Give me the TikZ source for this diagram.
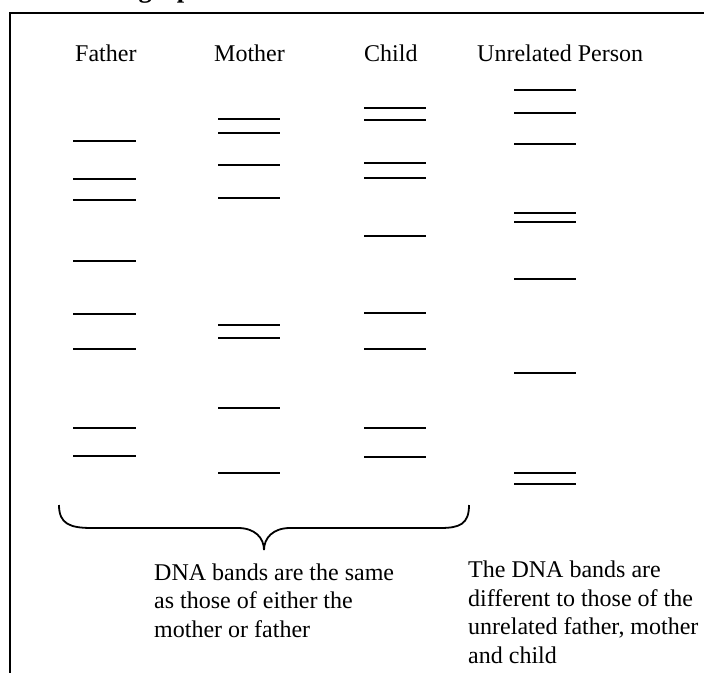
\documentclass[tikz,border=0pt]{standalone}
\usepackage{fontspec}
\setmainfont{Liberation Serif}
\begin{document}
\begin{tikzpicture}[x=1pt,y=-1pt,
  band/.style={line width=1.8pt},
  lbl/.style={anchor=base west,inner sep=0pt,font=\fontsize{24}{28.5}\selectfont},
  note/.style={anchor=base west,inner sep=0pt,align=left,font=\fontsize{24}{28.5}\selectfont},
  frame/.style={line width=2.6pt,line join=miter},
  bracestyle/.style={line width=1.8pt}]
\useasboundingbox (0,0) rectangle (704,673);
\clip (0,0) rectangle (704,673);
% cut-off title
\node[anchor=base west,inner sep=0pt,font=\bfseries\fontsize{26.5}{30}\selectfont] (title) at (22,-3) {Autoradiograph};
% frame
\draw[frame] (704,13) -- (10,13) -- (10,673);
% column labels
\node[lbl] (father) at (75,61) {Father};
\node[lbl] (mother) at (214,61) {Mother};
\node[lbl] (child) at (364,61) {Child};
\node[lbl] (unrel) at (477,61) {Unrelated Person};
% bands
\foreach \y in {141,179,200,261,314,349,428,456}
  \draw[band] (73,\y) -- (136,\y);
\foreach \y in {119,133,165,198,325,338,408,473}
  \draw[band] (218,\y) -- (280,\y);
\foreach \y in {108,120,163,178,236,313,349,428,457}
  \draw[band] (364,\y) -- (426,\y);
\foreach \y in {90,113,144,213,222,279,373,473,484}
  \draw[band] (514,\y) -- (576,\y);
% brace
\draw[bracestyle] (59,505) .. controls (59,524) and (70,528) .. (92,528)
  -- (238,528) .. controls (255,528) and (264,538) .. (264,550)
  .. controls (264,538) and (273,528) .. (290,528)
  -- (440,528) .. controls (460,528) and (469,524) .. (469,505);
% notes (base anchor = baseline of last line)
\node[note] (same) at (154,637) {DNA bands are the same\\as those of either the\\mother or father};
\node[note] (diff) at (468,663) {The DNA bands are\\different to those of the\\unrelated father, mother\\and child};
\end{tikzpicture}
\end{document}
